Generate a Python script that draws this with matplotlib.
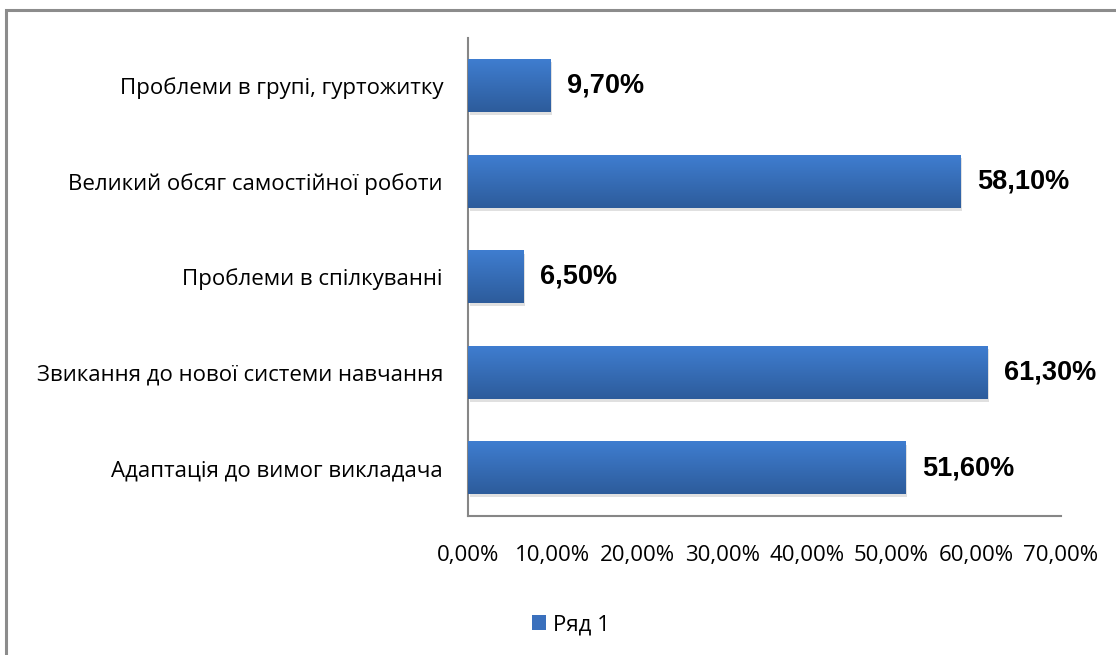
import numpy as np
import matplotlib.pyplot as plt
from matplotlib.patches import Rectangle
from matplotlib.ticker import FuncFormatter

categories = ["Адаптація до вимог викладача",
              "Звикання до нової системи навчання",
              "Проблеми в спілкуванні",
              "Великий обсяг самостійної роботи",
              "Проблеми в групі, гуртожитку"]
values = [51.6, 61.3, 6.5, 58.1, 9.7]
series_name = "Ряд 1"

W, H = 1116, 655
fig = plt.figure(figsize=(W / 100, H / 100), dpi=100)
fig.patch.set_facecolor("white")

# рамка диаграммы
fig.patches.append(Rectangle((6 / W, -0.1), 1.2, (H - 10) / H + 0.1,
                             transform=fig.transFigure, fill=False,
                             edgecolor="#8c8c8c", linewidth=2.2))

ax = fig.add_axes([468 / W, (H - 516) / H, (1061 - 468) / W, (516 - 38) / H])
y = np.arange(len(categories))
bh = 0.55

# тень
ax.barh(y - 0.03, values, height=bh, left=0.25, color="#000000", alpha=0.12, zorder=1)
bars = ax.barh(y, values, height=bh, color="#3a70bd", label=series_name, zorder=2)

# градиент
grad = np.linspace(0, 1, 64).reshape(-1, 1)
cmap = plt.matplotlib.colors.LinearSegmentedColormap.from_list("g", ["#2d5c9b", "#3f7dd0"])
for b in bars:
    x0, y0 = b.get_x(), b.get_y()
    ax.imshow(grad, extent=(x0, x0 + b.get_width(), y0, y0 + b.get_height()),
              origin="lower", cmap=cmap, aspect="auto", zorder=3)

for yi, v in zip(y, values):
    ax.text(v + 2.0, yi, f"{v:.2f}".replace(".", ",") + "%", va="center", ha="left",
            fontsize=19.5, fontweight="bold", family="Liberation Sans", zorder=4)

ax.set_xlim(0, 70)
ax.set_ylim(-0.5, len(categories) - 0.5)
ax.set_xticks(np.arange(0, 71, 10))
ax.xaxis.set_major_formatter(FuncFormatter(lambda v, p: f"{v:.2f}".replace(".", ",") + "%"))
ax.set_yticks(y)
ax.set_yticklabels(categories)
ax.tick_params(axis="both", length=0, labelsize=16)
ax.tick_params(axis="x", pad=21)
ax.tick_params(axis="y", pad=18)
for lab in ax.get_xticklabels() + ax.get_yticklabels():
    lab.set_family("Open Sans")
for s in ["top", "right"]:
    ax.spines[s].set_visible(False)
for s in ["left", "bottom"]:
    ax.spines[s].set_color("#868686")
    ax.spines[s].set_linewidth(1.5)

leg = fig.legend(handles=[bars], labels=[series_name], loc="center",
                 bbox_to_anchor=(571 / W, (H - 625) / H), frameon=False,
                 handlelength=0.65, handleheight=0.65, handletextpad=0.3,
                 prop={"family": "Open Sans", "size": 16})

fig.savefig("out.png", dpi=100)
